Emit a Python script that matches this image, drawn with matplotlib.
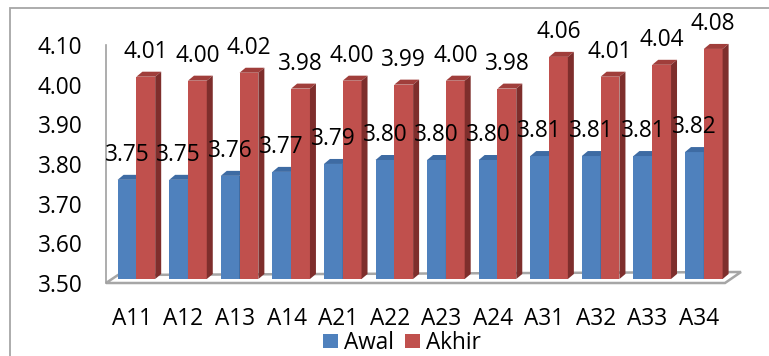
import matplotlib
matplotlib.use("Agg")
import matplotlib.pyplot as plt
from matplotlib.patches import Polygon, Rectangle, Patch
from matplotlib.transforms import ScaledTranslation

categories = ["A11", "A12", "A13", "A14", "A21", "A22", "A23", "A24",
              "A31", "A32", "A33", "A34"]
awal = [3.75, 3.75, 3.76, 3.77, 3.79, 3.80, 3.80, 3.80, 3.81, 3.81, 3.81, 3.82]
akhir = [4.01, 4.00, 4.02, 3.98, 4.00, 3.99, 4.00, 3.98, 4.06, 4.01, 4.04, 4.08]
yticks = [3.50, 3.60, 3.70, 3.80, 3.90, 4.00, 4.10]
series_names = ["Awal", "Akhir"]

plt.rcParams["font.family"] = ["Open Sans", "DejaVu Sans"]
FS = 16.3
W, H, DPI = 769, 356, 100

fig = plt.figure(figsize=(W / DPI, H / DPI), dpi=DPI)
fig.patch.set_facecolor("white")

# plot area in pixel geometry
ax_l, ax_r, ax_top, ax_bot = 106, 725, 45, 283
ax = fig.add_axes([ax_l / W, (H - ax_bot) / H, (ax_r - ax_l) / W, (ax_bot - ax_top) / H])
ax.set_xlim(-0.5, len(categories) - 0.5)
ax.set_ylim(yticks[0], yticks[-1])
ax.patch.set_visible(False)

px_x = (ax_r - ax_l) / len(categories)          # pixels per category
px_y = (ax_bot - ax_top) / (yticks[-1] - yticks[0])  # pixels per value unit

for s in ["top", "right", "bottom"]:
    ax.spines[s].set_visible(False)
ax.spines["left"].set_color("#A0A0A0")
ax.spines["left"].set_linewidth(1.2)

ax.set_yticks(yticks)
ax.set_yticklabels([f"{t:.2f}" for t in yticks], fontsize=FS)
ax.tick_params(axis="y", length=0, pad=17)
ax.set_xticks(range(len(categories)))
ax.set_xticklabels(categories, fontsize=FS)
ax.tick_params(axis="x", length=0, pad=17)

# floor of the 3D plot
fl = [(-0.5, yticks[0]), (len(categories) - 0.5, yticks[0]),
      (len(categories) - 0.5 + 16 / px_x, yticks[0] + 11 / px_y),
      (-0.5 + 12 / px_x, yticks[0] + 8 / px_y)]
ax.add_patch(Polygon(fl, closed=True, facecolor="white", edgecolor="#A6A6A6",
                     lw=1.8, clip_on=False, zorder=1))

# bars sit slightly behind the floor front edge
bar_shift = ax.transData + ScaledTranslation(4.6 / DPI, 4 / DPI, fig.dpi_scale_trans)
bw = 18.8 / px_x
ddx = 6 / px_x
ddy = 5 / px_y

colors = {
    "Awal": ("#4F81BD", "#3E6BA3", "#2F5381"),
    "Akhir": ("#C0504D", "#A03E3B", "#7E2E2C"),
}

def draw_bar(x0, v, name, z):
    front, top, side = colors[name]
    b = yticks[0]
    ax.add_patch(Rectangle((x0, b), bw, v - b, facecolor=front, edgecolor="none",
                           transform=bar_shift, clip_on=False, zorder=z))
    ax.add_patch(Polygon([(x0, v), (x0 + bw, v), (x0 + bw + ddx, v + ddy), (x0 + ddx, v + ddy)],
                         closed=True, facecolor=top, edgecolor="none",
                         transform=bar_shift, clip_on=False, zorder=z))
    ax.add_patch(Polygon([(x0 + bw, b), (x0 + bw + ddx, b + ddy), (x0 + bw + ddx, v + ddy), (x0 + bw, v)],
                         closed=True, facecolor=side, edgecolor="none",
                         transform=bar_shift, clip_on=False, zorder=z))
    ax.annotate(f"{v:.2f}", xy=(x0 + bw / 2, v), xytext=(4.6 * 0.72, 29 * 0.72),
                textcoords="offset points", ha="center", va="center",
                fontsize=FS, color="black", zorder=100, annotation_clip=False)

for i in range(len(categories)):
    draw_bar(i - bw, awal[i], "Awal", 2 + 2 * i)
    draw_bar(i, akhir[i], "Akhir", 3 + 2 * i)

handles = [Patch(facecolor=colors[n][0], edgecolor="none") for n in series_names]
fig.legend(handles, series_names, loc="center", bbox_to_anchor=(402 / W, 1 - 343 / H),
           ncol=2, frameon=False, fontsize=FS, handlelength=0.66, handleheight=0.62,
           handletextpad=0.27, columnspacing=0.49, borderpad=0, borderaxespad=0)

# chart-area border
fig.add_artist(Rectangle((10 / W, -0.5), 2, 1 - 8 / H + 0.5, transform=fig.transFigure,
                         fill=False, edgecolor="#A6A6A6", lw=1.3))

fig.savefig("out.png", dpi=DPI)
